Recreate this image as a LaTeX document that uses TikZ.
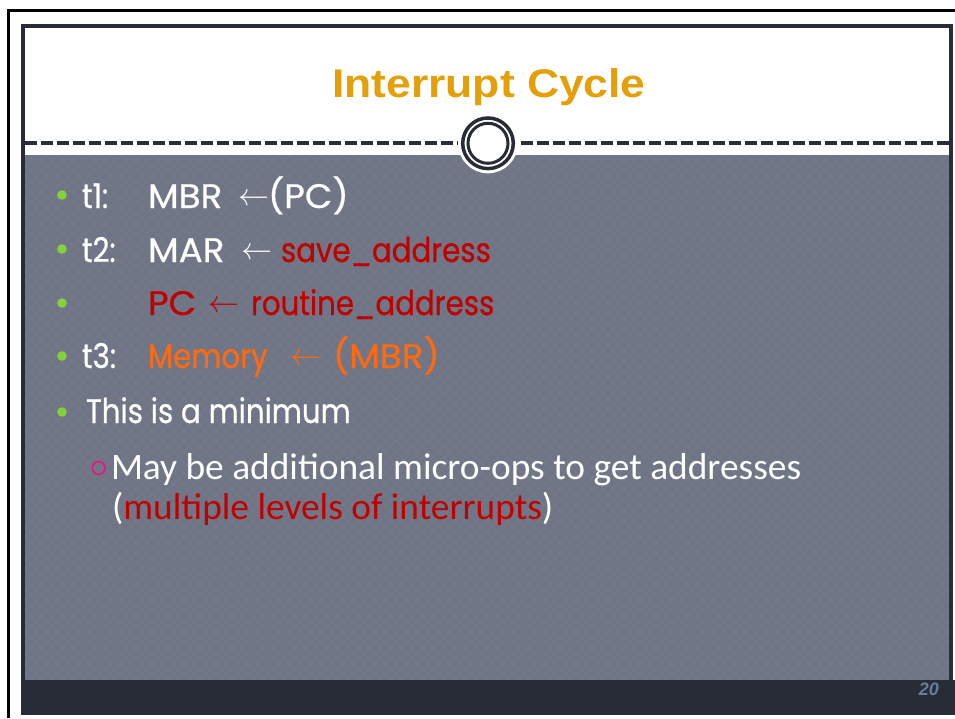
\documentclass[tikz,border=0pt]{standalone}
\usepackage{graphicx}
\usepackage{fontspec}
\setmainfont{Carlito}
\newfontfamily\bulletfont[FakeStretch=0.86, FakeBold=0.6]{Poppins}
\newfontfamily\capsfont[FakeStretch=1.05, FakeBold=0.6]{Poppins}
\newfontfamily\titlefont[FakeStretch=1.11]{Liberation Sans}
\newfontfamily\numfont{Liberation Sans}

\definecolor{slidedark}{HTML}{272C37}
\definecolor{panelgray}{HTML}{6F7584}
\definecolor{panelweave}{HTML}{7C8292}
\definecolor{titlegold}{HTML}{E3A00B}
\definecolor{bulletgreen}{HTML}{85D13C}
\definecolor{accentred}{HTML}{C00000}
\definecolor{accentorange}{HTML}{FF6A10}
\definecolor{ringpink}{HTML}{E5197B}
\definecolor{pagenum}{HTML}{6A7D99}

% thin left arrow used in the transfer statements
\newcommand{\xferarrow}{\resizebox{31pt}{!}{$\leftarrow$}}

\begin{document}
\begin{tikzpicture}[x=1pt,y=-1pt,
  rowtext/.style={anchor=base west, inner sep=0pt, outer sep=0pt, text=white,
    font=\bulletfont\fontsize{34}{40}\selectfont},
  capstext/.style={rowtext, font=\capsfont\fontsize{34}{40}\selectfont},
  subtext/.style={anchor=base west, inner sep=0pt, outer sep=0pt, text=white,
    font=\fontsize{37.4}{44}\selectfont},
  arrowtext/.style={anchor=base west, inner sep=0pt, outer sep=0pt, text=white},
  dot/.style={fill=bulletgreen},
  divider/.style={draw=slidedark, line width=3.5pt, dash pattern=on 11.5pt off 4.5pt},
  ring/.style={draw=slidedark},
  weave/.style={draw=panelweave, line width=0.7pt, opacity=0.45}]
\useasboundingbox (0,0) rectangle (955,718);
\fill[white] (0,0) rectangle (955,718);

% page frame
\draw[line width=2.5pt, black] (8.7,718) -- (8.7,10.5) -- (955,10.5);

% slide body: border, title area, panel, footer
\fill[slidedark] (21,24) rectangle (953,715);
\fill[slidedark] (21,680) rectangle (955,715);
\fill[white] (25,27.5) rectangle (949,155);
\fill[panelgray] (25,155) rectangle (949,680);

% fine diamond weave on the panel
\begin{scope}
  \clip (25,155) rectangle (949,680);
  \foreach \k in {0,...,140} {
    \draw[weave] ({25+10.6*\k-530},155) -- ++(525,525);
    \draw[weave] ({25+10.6*\k},155) -- ++(-525,525);
  }
\end{scope}

% dashed divider with ring ornament
\draw[divider] (25,143) -- (949,143);
\fill[white] (488,143.3) circle (30);
\draw[ring, line width=3.5pt] (488,143.3) circle (25.3);
\draw[ring, line width=3pt] (488,143.3) circle (20);

% title
\node[anchor=base, inner sep=0pt, text=titlegold,
  font=\titlefont\bfseries\fontsize{40}{48}\selectfont] (title) at (489,97) {Interrupt Cycle};

% bullets
\fill[dot] (62,195) circle (4.8);
\fill[dot] (62,249) circle (4.8);
\fill[dot] (62,303) circle (4.8);
\fill[dot] (62,356) circle (4.8);
\fill[dot] (62,412) circle (4.8);

% t1
\node[rowtext] (t1) at (82,208) {t1:};
\node[capstext] (mbr) at (148,208) {MBR};
\node[arrowtext] (a1) at (238,205) {\xferarrow};
\node[capstext] (pc) at (268,208) {(PC)};

% t2
\node[rowtext] (t2) at (82,262) {t2:};
\node[capstext] (mar) at (148,262) {MAR};
\node[arrowtext] (a2) at (241,259) {\xferarrow};
\node[rowtext, text=accentred] (save) at (281,262) {save\_address};

% PC <- routine_address
\node[capstext, text=accentred] (pc2) at (148,315) {PC};
\node[arrowtext, text=accentred] (a3) at (208,312) {\xferarrow};
\node[rowtext, text=accentred] (routine) at (251,315) {routine\_address};

% t3
\node[rowtext] (t3) at (82,368) {t3:};
\node[rowtext, text=accentorange] (mem) at (148,368) {Memory};
\node[arrowtext, text=accentorange] (a4) at (290,365) {\xferarrow};
\node[capstext, text=accentorange] (mbr2) at (333,368) {(MBR)};

% summary bullet
\node[rowtext] (minimum) at (86,423) {This is a minimum};

% sub-bullet
\draw[ringpink, line width=1.8pt] (98.7,468) circle (6.3);
\node[subtext] (extra) at (111,479) {May be additional micro-ops to get addresses};
\node[subtext] (levels) at (112,519) {(\textcolor{accentred}{multiple levels of interrupts})};

% page number
\node[anchor=base east, inner sep=0pt, text=pagenum,
  font=\numfont\bfseries\itshape\fontsize{18}{22}\selectfont] (num) at (939,695) {20};
\end{tikzpicture}
\end{document}
